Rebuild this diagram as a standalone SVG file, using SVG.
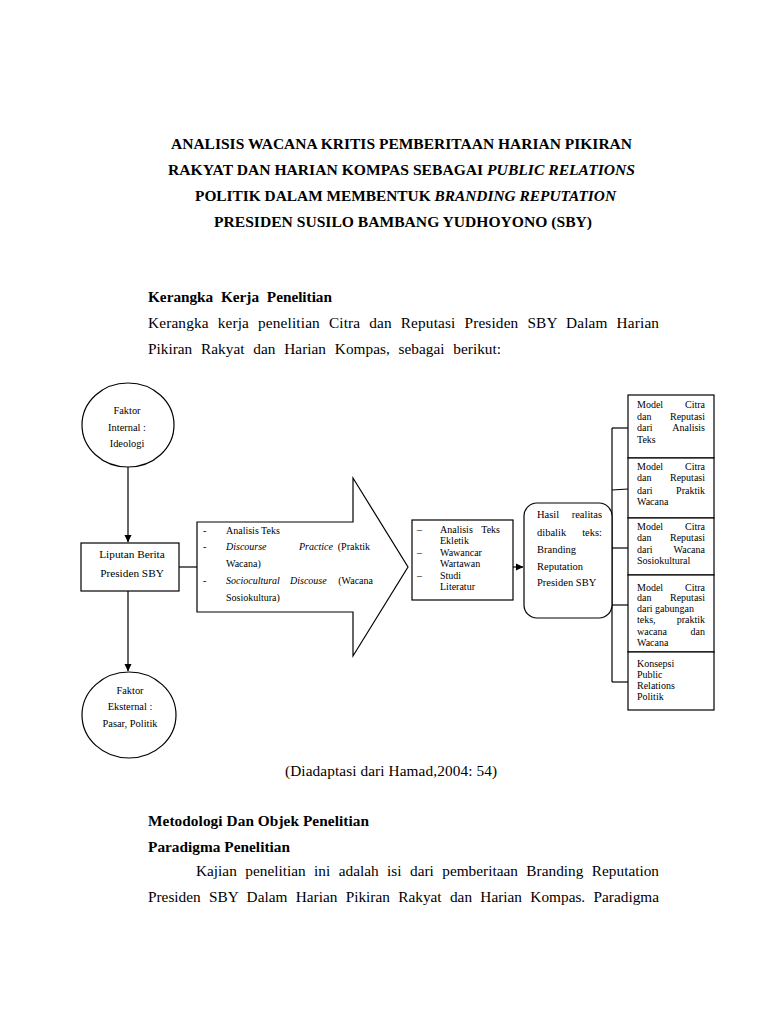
<svg xmlns="http://www.w3.org/2000/svg" width="768" height="1024" viewBox="0 0 768 1024">
<style>
.t{font-family:"Liberation Serif","Times New Roman",serif;fill:#000}
.b{font-weight:bold}
.i{font-style:italic}
.body{font-size:15.3px}
.s{font-size:10px}
.m{font-size:10.5px}
.a{font-size:10px}
.l{font-size:11.3px}
.e{font-size:10.4px}
.ln{fill:none;stroke:#000;stroke-width:1.2}
.box{fill:#fff;stroke:#000;stroke-width:1.2}
.r{text-anchor:end}
.c{text-anchor:middle}
</style>
<defs>
<marker id="ah" markerWidth="8" markerHeight="8" refX="7" refY="4" orient="auto" markerUnits="userSpaceOnUse">
<path d="M0,0.5 L7.5,4 L0,7.5 Z" fill="#000"/>
</marker>
</defs>
<rect width="768" height="1024" fill="#fff"/>

<g id="title" class="t b body">
<text x="401.5" y="149" class="c" textLength="461" lengthAdjust="spacingAndGlyphs">ANALISIS WACANA KRITIS PEMBERITAAN HARIAN PIKIRAN</text>
<text x="401.5" y="175" class="c" textLength="467" lengthAdjust="spacingAndGlyphs">RAKYAT DAN HARIAN KOMPAS SEBAGAI <tspan class="i">PUBLIC RELATIONS</tspan></text>
<text x="405.5" y="201" class="c" textLength="421" lengthAdjust="spacingAndGlyphs">POLITIK DALAM MEMBENTUK <tspan class="i">BRANDING REPUTATION</tspan></text>
<text x="403" y="227" class="c" textLength="378" lengthAdjust="spacingAndGlyphs">PRESIDEN SUSILO BAMBANG YUDHOYONO (SBY)</text>
</g>

<g id="intro" class="t body">
<text x="148" y="302" class="b" style="word-spacing:4px" textLength="184" lengthAdjust="spacing">Kerangka Kerja Penelitian</text>
<text x="148" y="328" style="word-spacing:5px" textLength="511" lengthAdjust="spacing">Kerangka kerja penelitian Citra dan Reputasi Presiden SBY Dalam Harian</text>
<text x="148" y="354" style="word-spacing:5px" textLength="353" lengthAdjust="spacing">Pikiran Rakyat dan Harian Kompas, sebagai berikut:</text>
</g>

<g id="connectors">
<line class="ln" x1="128" y1="467" x2="128" y2="542" marker-end="url(#ah)"/>
<line class="ln" x1="128" y1="591" x2="128" y2="671" marker-end="url(#ah)"/>
<line class="ln" x1="179" y1="567" x2="197" y2="567"/>
<line class="ln" x1="513" y1="567" x2="523" y2="567" marker-end="url(#ah)"/>
<line class="ln" x1="612" y1="428" x2="612" y2="682"/>
<line class="ln" x1="612" y1="428" x2="628" y2="428"/>
<line class="ln" x1="612" y1="490" x2="628" y2="489"/>
<line class="ln" x1="612" y1="548" x2="628" y2="548"/>
<line class="ln" x1="612" y1="605" x2="628" y2="605"/>
<line class="ln" x1="612" y1="682" x2="628" y2="682"/>
</g>

<g id="faktor-internal">
<ellipse class="box" cx="128" cy="425" rx="46" ry="42"/>
<g class="t e c">
<text x="127" y="414">Faktor</text>
<text x="127" y="431">Internal :</text>
<text x="127" y="447">Ideologi</text>
</g>
</g>

<g id="liputan-berita">
<rect class="box" x="81" y="543" width="98" height="48"/>
<g class="t l c">
<text x="132" y="558">Liputan Berita</text>
<text x="132" y="577">Presiden SBY</text>
</g>
</g>

<g id="faktor-eksternal">
<ellipse class="box" cx="129" cy="715" rx="47" ry="43"/>
<g class="t e c">
<text x="130" y="694">Faktor</text>
<text x="130" y="710">Eksternal :</text>
<text x="130" y="727">Pasar, Politik</text>
</g>
</g>

<g id="analisis-arrow">
<polygon class="box" points="197,522 353,522 353,478 408,567 353,656 353,612 197,612"/>
<g class="t a">
<text x="203" y="534">-</text>
<text x="226" y="534">Analisis Teks</text>
<text x="203" y="550">-</text>
<text x="226" y="550" class="i">Discourse</text>
<text x="299" y="550" class="i">Practice</text>
<text x="370" y="550" class="r">(Praktik</text>
<text x="226" y="567">Wacana)</text>
<text x="203" y="584">-</text>
<text x="226" y="584" class="i">Sociocultural</text>
<text x="290" y="584" class="i">Discouse</text>
<text x="373" y="584" class="r">(Wacana</text>
<text x="226" y="601">Sosiokultura)</text>
</g>
</g>

<g id="metode-box">
<rect class="box" x="412" y="520" width="101" height="80"/>
<g class="t s">
<text x="417" y="533">–</text>
<text x="440" y="533">Analisis</text>
<text x="500" y="533" class="r">Teks</text>
<text x="440" y="544">Ekletik</text>
<text x="417" y="556">–</text>
<text x="440" y="556">Wawancar</text>
<text x="440" y="567">Wartawan</text>
<text x="417" y="579">–</text>
<text x="440" y="579">Studi</text>
<text x="440" y="590">Literatur</text>
</g>
</g>

<g id="hasil-box">
<rect class="box" x="524" y="503" width="88" height="115" rx="13" ry="13"/>
<g class="t m">
<text x="537" y="518">Hasil</text>
<text x="602" y="518" class="r">realitas</text>
<text x="537" y="536">dibalik</text>
<text x="602" y="536" class="r">teks:</text>
<text x="537" y="553">Branding</text>
<text x="537" y="570">Reputation</text>
<text x="537" y="586">Presiden SBY</text>
</g>
</g>

<g id="model-analisis-teks">
<rect class="box" x="628" y="395" width="86" height="63"/>
<g class="t s">
<text x="637" y="408">Model</text><text x="705" y="408" class="r">Citra</text>
<text x="637" y="420">dan</text><text x="705" y="420" class="r">Reputasi</text>
<text x="637" y="431">dari</text><text x="705" y="431" class="r">Analisis</text>
<text x="637" y="443">Teks</text>
</g>
</g>

<g id="model-praktik-wacana">
<rect class="box" x="628" y="458" width="86" height="60"/>
<g class="t s">
<text x="637" y="470">Model</text><text x="705" y="470" class="r">Citra</text>
<text x="637" y="481">dan</text><text x="705" y="481" class="r">Reputasi</text>
<text x="637" y="494">dari</text><text x="705" y="494" class="r">Praktik</text>
<text x="637" y="505">Wacana</text>
</g>
</g>

<g id="model-sosiokultural">
<rect class="box" x="628" y="518" width="86" height="57"/>
<g class="t s">
<text x="637" y="530">Model</text><text x="705" y="530" class="r">Citra</text>
<text x="637" y="541">dan</text><text x="705" y="541" class="r">Reputasi</text>
<text x="637" y="553">dari</text><text x="705" y="553" class="r">Wacana</text>
<text x="637" y="564">Sosiokultural</text>
</g>
</g>

<g id="model-gabungan">
<rect class="box" x="628" y="575" width="86" height="77"/>
<g class="t s">
<text x="637" y="591">Model</text><text x="705" y="591" class="r">Citra</text>
<text x="637" y="601">dan</text><text x="705" y="601" class="r">Reputasi</text>
<text x="637" y="612">dari gabungan</text>
<text x="637" y="623">teks,</text><text x="705" y="623" class="r">praktik</text>
<text x="637" y="635">wacana</text><text x="705" y="635" class="r">dan</text>
<text x="637" y="646">Wacana</text>
</g>
</g>

<g id="konsepsi-pr">
<rect class="box" x="628" y="652" width="86" height="58"/>
<g class="t s">
<text x="637" y="667">Konsepsi</text>
<text x="637" y="678">Public</text>
<text x="637" y="689">Relations</text>
<text x="637" y="700">Politik</text>
</g>
</g>

<g id="footer" class="t body">
<text x="391" y="776" class="c" textLength="212" lengthAdjust="spacing">(Diadaptasi dari Hamad,2004: 54)</text>
<text x="148" y="826" class="b" textLength="221" lengthAdjust="spacing">Metodologi Dan Objek Penelitian</text>
<text x="148" y="852" class="b" textLength="142" lengthAdjust="spacing">Paradigma Penelitian</text>
<text x="196" y="876" style="word-spacing:4.6px" textLength="463" lengthAdjust="spacing">Kajian penelitian ini adalah isi dari pemberitaan Branding Reputation</text>
<text x="148" y="902" style="word-spacing:4.5px" textLength="511" lengthAdjust="spacing">Presiden SBY Dalam Harian Pikiran Rakyat dan Harian Kompas. Paradigma</text>
</g>
</svg>
